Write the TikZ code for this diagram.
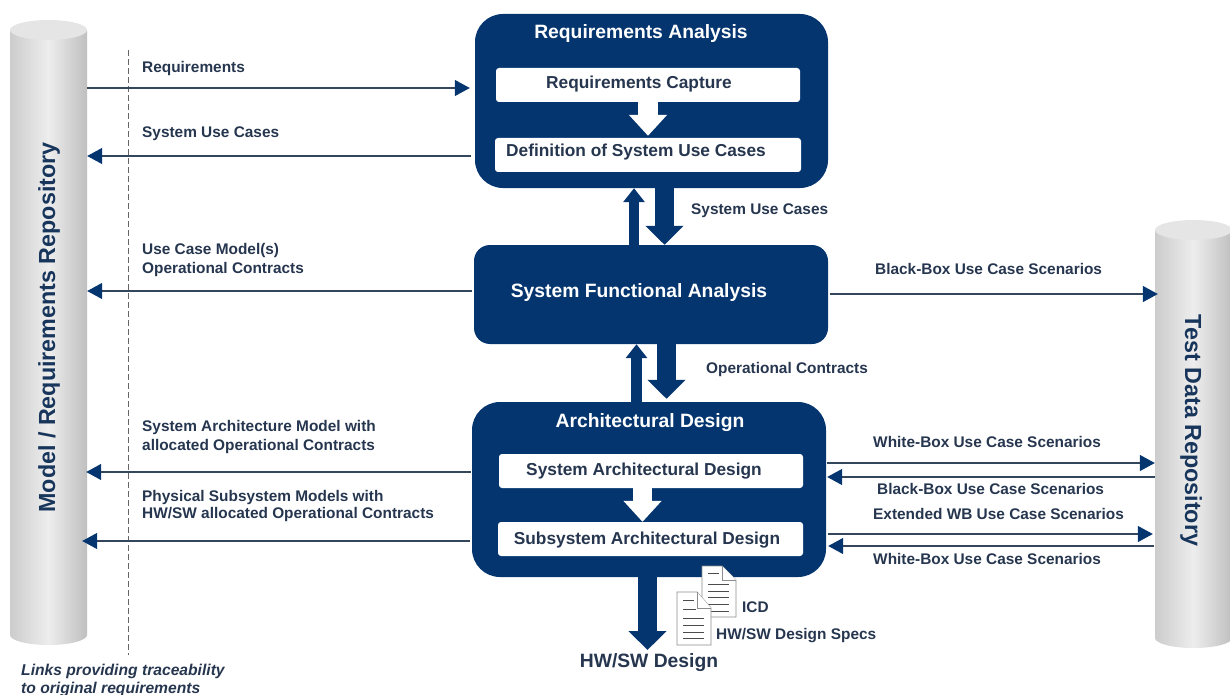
\documentclass[tikz,border=0pt]{standalone}
\usepackage{fontspec}
\setmainfont{Liberation Sans}
\usetikzlibrary{arrows.meta}
\definecolor{navy}{HTML}{04356F}
\definecolor{ink}{HTML}{26364F}
\definecolor{linecol}{HTML}{33465C}
\tikzset{
  x=1pt,y=-1pt,
  bigbox/.style={draw=none,fill=navy,rounded corners=28pt,inner sep=0pt},
  innerbox/.style={draw=none,fill=white,rounded corners=3pt,inner sep=0pt},
  lab/.style={inner sep=0pt,text=ink,font=\fontsize{15.4}{15.4}\selectfont\bfseries,anchor=west,text height=11pt,text depth=3pt,yshift=-1.5pt},
  boxlab/.style={inner sep=0pt,text=ink,font=\fontsize{17.3}{17.3}\selectfont\bfseries,text height=12.5pt,text depth=3.5pt,yshift=-1.5pt},
  titlelab/.style={inner sep=0pt,text=white,font=\fontsize{19.3}{19.3}\selectfont\bfseries,text height=14pt,text depth=4pt,yshift=-1.5pt},
  replab/.style={inner sep=0pt,text=ink!60!navy,font=\fontsize{23.3}{23.3}\selectfont\bfseries,text height=17pt,text depth=5pt},
  conn/.style={draw=linecol,line width=1.3pt,-{Triangle[length=15pt,width=16pt,fill=navy,color=navy]}},
  fat/.style={draw=navy,line width=#1},
  fat/.default=19pt,
  bigtip/.style={-{Triangle[length=19pt,width=37pt,color=navy,fill=navy]}},
  thintip/.style={-{Triangle[length=14pt,width=21pt,color=navy,fill=navy]}},
  whitetip/.style={-{Triangle[length=21pt,width=37pt,color=white,fill=white]}},
  repo/.style={left color=black!20,right color=black!25,middle color=black!7},
  repotop/.style={fill=black!10},
  docsheet/.style={draw=black!45,fill=white,line width=.9pt},
  docline/.style={draw=black!70,line width=.9pt},
}
\begin{document}
\begin{tikzpicture}
\useasboundingbox (0,0) rectangle (1230,695);
% repositories
\shade[repo] (10,30) -- (10,635) arc[start angle=180,end angle=360,x radius=38.5,y radius=-10] -- (87,30) -- cycle;
\fill[repotop] (48.5,30) ellipse[x radius=38.5,y radius=10];
\shade[repo] (1155,230) -- (1155,638) arc[start angle=180,end angle=360,x radius=38.5,y radius=-10] -- (1232,230) -- cycle;
\fill[repotop] (1193.5,230) ellipse[x radius=38.5,y radius=10];
\node[inner sep=0pt,minimum width=77pt,minimum height=615pt] (lrepo) at (48.5,332) {};
\node[inner sep=0pt,minimum width=77pt,minimum height=418pt] (rrepo) at (1193.5,434) {};
\node[replab,rotate=90] (lreplab) at (49,327.5) {Model / Requirements Repository};
\node[replab,rotate=-90] (rreplab) at (1191,430.5) {Test Data Repository};
% dashed traceability line
\coordinate (dashtop) at (128,50);
\coordinate (dashbot) at (128,655);
\draw[draw=black!60,line width=.9pt,dash pattern=on 6pt off 3pt] (dashtop) -- (dashbot);
% process boxes
\node[bigbox,minimum width=353pt,minimum height=174pt] (reqbox) at (651.5,101) {};
\node[bigbox,rounded corners=16pt,minimum width=354pt,minimum height=99pt] (funcbox) at (651,294.5) {};
\node[bigbox,minimum width=354pt,minimum height=175pt] (archbox) at (649,489.5) {};
\node[innerbox,minimum width=304pt,minimum height=34pt] (capture) at (648,85) {};
\node[innerbox,minimum width=306pt,minimum height=34pt] (defuse) at (648,155) {};
\node[innerbox,minimum width=304pt,minimum height=34pt] (sysarch) at (651,471) {};
\node[innerbox,minimum width=305pt,minimum height=34pt] (subarch) at (650.5,539) {};
% inner white arrows
\draw[draw=white,line width=20pt,whitetip] (capture.south -| 648,0) -- ([yshift=2pt]defuse.north -| 648,0);
\draw[draw=white,line width=19pt,whitetip] (sysarch.south -| 642.5,0) -- (subarch.north -| 642.5,0);
% titles and texts in boxes
\node[titlelab] (t1) at (641,32) {Requirements Analysis};
\node[boxlab] (t2) at (639,83) {Requirements Capture};
\node[boxlab] (t3) at (636,151) {Definition of System Use Cases};
\node[titlelab] (t4) at (639,291) {System Functional Analysis};
\node[titlelab] (t5) at (650,421) {Architectural Design};
\node[boxlab] (t6) at (644,469) {System Architectural Design};
\node[boxlab] (t7) at (647,538) {Subsystem Architectural Design};
% thick arrows between boxes
\draw[fat=10pt,thintip] (funcbox.north -| 634,0) -- (reqbox.south -| 634,0);
\draw[fat=19pt,bigtip] (reqbox.south -| 664.5,0) -- (funcbox.north -| 664.5,0);
\draw[fat=11pt,thintip] (archbox.north -| 636.5,0) -- (funcbox.south -| 636.5,0);
\draw[fat=19pt,bigtip] (funcbox.south -| 666.5,0) -- ([yshift=3pt]archbox.north -| 666.5,0);
\coordinate (hwtip) at (647.5,650);
\draw[fat=19pt,bigtip] (archbox.south -| hwtip) -- (hwtip);
\node[titlelab,text=ink] (hw) at (649,661) {HW/SW Design};
% documents
\draw[docsheet] (702,566) -- (722,566) -- (736,580) -- (736,617) -- (702,617) -- cycle;
\draw[docsheet] (722,566) -- (722,580) -- (736,580);
\foreach \yy/\xe in {573/719,584/729,591/729,597/729,604/729,611/729}
  \draw[docline] (708,\yy) -- (\xe,\yy);
\draw[docsheet] (677,592) -- (697,592) -- (711,608) -- (711,645) -- (677,645) -- cycle;
\draw[docsheet] (697,592) -- (697,608) -- (711,608);
\foreach \yy/\xe in {600/694,609/696,618/704,625/704,632/704,638/704}
  \draw[docline] (683,\yy) -- (\xe,\yy);
\node[lab] (icd) at (742,607) {ICD};
\node[lab] (specs) at (716,634) {HW/SW Design Specs};
% connectors left
\draw[conn] (lrepo.east |- 0,88) -- ([xshift=-5pt]reqbox.west |- 0,88);
\draw[conn] ([xshift=-4pt]reqbox.west |- 0,156) -- (lrepo.east |- 0,156);
\draw[conn] ([xshift=-2pt]funcbox.west |- 0,291) -- (lrepo.east |- 0,291);
\draw[conn] ([xshift=-1pt]archbox.west |- 0,472) -- ([xshift=-1pt]lrepo.east |- 0,472);
\draw[conn] ([xshift=-2pt]archbox.west |- 0,541) -- ([xshift=-5pt]lrepo.east |- 0,541);
% connectors right
\draw[conn] ([xshift=2pt]funcbox.east |- 0,294) -- ([xshift=3pt]rrepo.west |- 0,294);
\draw[conn] ([xshift=1pt]archbox.east |- 0,463) -- (rrepo.west |- 0,463);
\draw[conn] (rrepo.west |- 0,477) -- ([xshift=1pt]archbox.east |- 0,477);
\draw[conn] ([xshift=2pt]archbox.east |- 0,534) -- ([xshift=-2pt]rrepo.west |- 0,534);
\draw[conn] ([xshift=-1pt]rrepo.west |- 0,546) -- ([xshift=2pt]archbox.east |- 0,546);
% labels
\node[lab] (l1) at (142,67) {Requirements};
\node[lab] (l2) at (142,132) {System Use Cases};
\node[lab] (l3) at (142,249) {Use Case Model(s)};
\node[lab] (l4) at (142,268) {Operational Contracts};
\node[lab] (l5) at (142,426) {System Architecture Model with};
\node[lab] (l6) at (142,445) {allocated Operational Contracts};
\node[lab] (l7) at (142,496) {Physical Subsystem Models with};
\node[lab] (l8) at (142,513) {HW/SW allocated Operational Contracts};
\node[lab] (m1) at (691,209) {System Use Cases};
\node[lab] (m2) at (706,368) {Operational Contracts};
\node[lab] (r1) at (875,269) {Black-Box Use Case Scenarios};
\node[lab] (r2) at (873,442) {White-Box Use Case Scenarios};
\node[lab] (r3) at (877,489) {Black-Box Use Case Scenarios};
\node[lab] (r4) at (873,514) {Extended WB Use Case Scenarios};
\node[lab] (r5) at (873,559) {White-Box Use Case Scenarios};
\node[lab,font=\fontsize{15.65}{15.65}\selectfont\bfseries\itshape] (n1) at (21,670) {Links providing traceability};
\node[lab,font=\fontsize{15.65}{15.65}\selectfont\bfseries\itshape] (n2) at (21,688) {to original requirements};
\end{tikzpicture}
\end{document}
